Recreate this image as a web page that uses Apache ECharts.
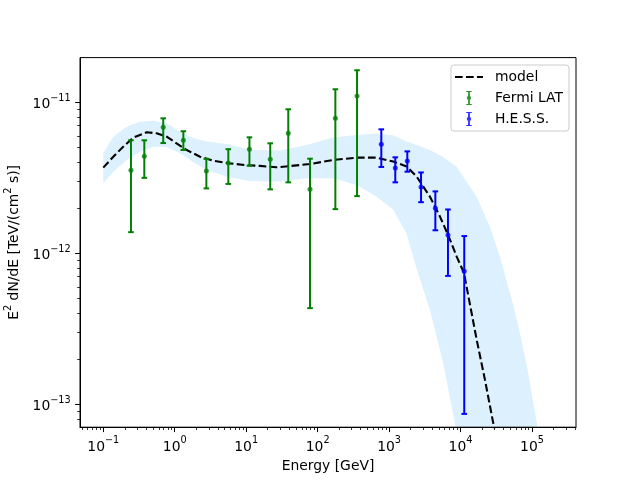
<!DOCTYPE html>
<html><head><meta charset="utf-8">
<script src="https://cdn.jsdelivr.net/npm/echarts@6.0.0/dist/echarts.min.js"></script>
<style>html,body{margin:0;padding:0;background:#fff}#c{width:640px;height:480px}</style>
</head><body><div id="c"></div>
<script>
// ---------- data (energies in GeV, fluxes in TeV/(cm^2 s)) ----------
const fermiE  = [0.244, 0.375, 0.69, 1.32, 2.77, 5.62, 11.1, 21.7, 38.8, 78.2, 177, 356];
const fermiF  = [3.55e-12, 4.39e-12, 6.83e-12, 5.6e-12, 3.51e-12, 3.96e-12, 4.89e-12, 4.20e-12, 6.24e-12, 2.65e-12, 7.83e-12, 1.10e-11];
const fermiHi = [5.6e-12, 5.6e-12, 7.83e-12, 6.43e-12, 4.22e-12, 4.89e-12, 5.86e-12, 5.35e-12, 8.99e-12, 4.23e-12, 1.22e-11, 1.63e-11];
const fermiLo = [1.38e-12, 3.16e-12, 5.37e-12, 4.83e-12, 2.69e-12, 2.88e-12, 3.80e-12, 2.65e-12, 2.95e-12, 4.33e-13, 1.96e-12, 2.39e-12];

const hessE  = [778, 1221, 1799, 2800, 4440, 6670, 11270];
const hessF  = [5.27e-12, 3.67e-12, 4.08e-12, 2.75e-12, 1.99e-12, 1.32e-12, 7.6e-13];
const hessHi = [6.62e-12, 4.32e-12, 4.73e-12, 3.43e-12, 2.57e-12, 1.95e-12, 1.30e-12];
const hessLo = [3.73e-12, 2.95e-12, 3.47e-12, 2.18e-12, 1.42e-12, 7.08e-13, 8.63e-14];

const modelE = [0.1, 0.138, 0.190, 0.263, 0.405, 0.558, 0.771, 1.06, 1.47, 2.26, 3.46, 5.93, 10.2, 15.6, 26.7, 78.2, 166, 352, 670, 1145, 1763, 2432, 3733, 5152, 6745, 8836, 11170, 16830, 21980, 28710, 32400];
const modelF = [3.69e-12, 4.36e-12, 5.08e-12, 5.83e-12, 6.33e-12, 6.23e-12, 5.92e-12, 5.35e-12, 4.83e-12, 4.36e-12, 4.10e-12, 3.94e-12, 3.83e-12, 3.79e-12, 3.71e-12, 3.90e-12, 4.15e-12, 4.30e-12, 4.30e-12, 4.05e-12, 3.75e-12, 3.22e-12, 2.37e-12, 1.75e-12, 1.31e-12, 9.5e-13, 7.41e-13, 2.67e-13, 1.45e-13, 7.48e-14, 5.4e-14];

const bandE  = [0.1, 0.138, 0.2126, 0.326, 0.501, 0.771, 1.184, 1.80, 2.80, 5.56, 11.3, 29.7, 70.3, 166, 352, 671, 1145, 1764, 2434, 3736, 5680, 8834, 16830, 25840, 35650, 54730, 67920, 88720, 110200, 152000];
const bandHi = [4.59e-12, 5.92e-12, 6.89e-12, 7.44e-12, 7.55e-12, 7.26e-12, 6.38e-12, 5.80e-12, 5.50e-12, 5.27e-12, 4.83e-12, 4.80e-12, 5.21e-12, 5.85e-12, 6.07e-12, 6.21e-12, 6.03e-12, 5.50e-12, 5.21e-12, 4.83e-12, 4.34e-12, 3.74e-12, 2.36e-12, 1.49e-12, 9.45e-13, 4.55e-13, 2.95e-13, 1.60e-13, 8.71e-14, 3.67e-14];
const bandLo = [2.91e-12, 3.47e-12, 4.15e-12, 4.71e-12, 5.08e-12, 5.06e-12, 4.61e-12, 4.02e-12, 3.56e-12, 3.20e-12, 3.01e-12, 2.99e-12, 3.14e-12, 3.14e-12, 2.83e-12, 2.37e-12, 1.94e-12, 1.34e-12, 7.87e-13, 4.21e-13, 1.89e-13, 6.56e-14, 1e-14, 3e-15, 1e-15, 3e-16, 1e-16, 5e-17, 2e-17, 1e-17];

const xTicks = [-1, 0, 1, 2, 3, 4, 5];      // log10 exponents of major x ticks
const yTicks = [-13, -12, -11];             // log10 exponents of major y ticks
const minorMult = [2, 3, 4, 5, 6, 7, 8, 9];

// ---------- layout ----------
const FONT = 'DejaVu Sans';
const xMin = -1.326, xMax = 5.616, yMin = -13.152, yMax = -10.704;
const L = Math.log10;

function minorTicks(lo, hi) {
  const out = [];
  for (let n = Math.floor(lo) - 1; n <= Math.ceil(hi); n++)
    for (const m of minorMult) { const v = n + L(m); if (v > lo && v < hi) out.push(v); }
  return out;
}
const supTxt = n => (n < 0 ? '\u2212' + (-n) : '' + n);
const tickFmt = v => '{b|10}{s|' + supTxt(Math.round(v)) + '}';
const richTick = {
  b: {fontSize: 13.9, fontFamily: FONT, color: '#000', padding: [4.5, 0, 0, 0]},
  s: {fontSize: 9.7, fontFamily: FONT, color: '#000', verticalAlign: 'top'}
};

const errRender = (params, api) => {
  const x = api.value(0), lo = api.value(1), hi = api.value(2);
  const p0 = api.coord([x, lo]), p1 = api.coord([x, hi]);
  const c = api.visual('color');
  const cap = 2.8;
  const st = {stroke: c, lineWidth: 2};
  return {type: 'group', children: [
    {type: 'line', shape: {x1: p0[0], y1: p0[1], x2: p1[0], y2: p1[1]}, style: st},
    {type: 'line', shape: {x1: p0[0] - cap, y1: p0[1], x2: p0[0] + cap, y2: p0[1]}, style: st},
    {type: 'line', shape: {x1: p1[0] - cap, y1: p1[1], x2: p1[0] + cap, y2: p1[1]}, style: st}
  ]};
};

const GREEN = '#008000', BLUE = '#0000ff', BAND = '#dcf0fd';

const bandRender = (params, api) => {
  if (params.dataIndex !== 0) return;
  const up = bandE.map((e, i) => api.coord([L(e), L(bandHi[i])]));
  const dn = bandE.map((e, i) => api.coord([L(e), L(bandLo[i])])).reverse();
  return {type: 'polygon', shape: {points: up.concat(dn)}, style: {fill: BAND}};
};

const errIcon = 'path://M0,0H6V1.2H0Z M2,0H4V15H2Z M0,13.8H6V15H0Z M5.3,7.5A2.3,2.3,0,1,1,0.7,7.5A2.3,2.3,0,1,1,5.3,7.5Z';
const dashIcon = 'path://M0,0H7.7V2.1H0Z M11,0H18.7V2.1H11Z M22,0H28V2.1H22Z';

const option = {
  animation: false,
  textStyle: {fontFamily: FONT},
  grid: {left: 80, right: 64, top: 57.6, bottom: 52.8, containLabel: false, outerBoundsMode: 'none',
         show: true, borderColor: '#000', borderWidth: 1, z: 10},
  legend: {
    orient: 'vertical', align: 'left', right: 71, top: 65,
    itemWidth: 28, itemHeight: 14, itemGap: 7,
    padding: [5, 6, 5, 4],
    backgroundColor: '#fff', borderColor: '#cccccc', borderWidth: 1, borderRadius: 3,
    textStyle: {fontSize: 13.9, fontFamily: FONT, color: '#000', padding: [0, 0, 0, 7]},
    data: [
      {name: 'model', icon: dashIcon},
      {name: 'Fermi LAT', icon: errIcon},
      {name: 'H.E.S.S.', icon: errIcon}
    ]
  },
  xAxis: [
    {
      type: 'value', min: xMin, max: xMax, position: 'bottom', z: 5,
      name: 'Energy [GeV]', nameLocation: 'middle', nameGap: 31,
      nameTextStyle: {fontSize: 13.9, fontFamily: FONT, color: '#000'},
      axisLine: {onZero: false, lineStyle: {color: '#000', width: 1}},
      axisTick: {customValues: xTicks, length: 4.9, lineStyle: {color: '#000', width: 1}},
      axisLabel: {customValues: xTicks, formatter: tickFmt, rich: richTick, margin: 8.4},
      splitLine: {show: false}
    },
    {
      type: 'value', min: xMin, max: xMax, position: 'bottom', z: 5,
      axisLine: {show: false, onZero: false},
      axisTick: {customValues: minorTicks(xMin, xMax), length: 2.8, lineStyle: {color: '#000', width: 0.8}},
      axisLabel: {show: false},
      splitLine: {show: false}
    }
  ],
  yAxis: [
    {
      type: 'value', min: yMin, max: yMax, position: 'left', z: 5,
      name: '{n|E}{s|2}{n| dN/dE [TeV/(cm}{s|2}{n| s)]}',
      nameLocation: 'middle', nameGap: 56, nameRotate: 90,
      nameTextStyle: {color: '#000', rich: {
        n: {fontSize: 13.9, fontFamily: FONT, color: '#000', padding: [4.5, 0, 0, 0]},
        s: {fontSize: 9.7, fontFamily: FONT, color: '#000', verticalAlign: 'top'}
      }},
      axisLine: {onZero: false, lineStyle: {color: '#000', width: 1}},
      axisTick: {customValues: yTicks, length: 4.9, lineStyle: {color: '#000', width: 1}},
      axisLabel: {customValues: yTicks, formatter: tickFmt, rich: richTick, margin: 9.3},
      splitLine: {show: false}
    },
    {
      type: 'value', min: yMin, max: yMax, position: 'left', z: 5,
      axisLine: {show: false, onZero: false},
      axisTick: {customValues: minorTicks(yMin, yMax), length: 2.8, lineStyle: {color: '#000', width: 0.8}},
      axisLabel: {show: false},
      splitLine: {show: false}
    }
  ],
  series: [
    {
      name: 'band', type: 'custom', xAxisIndex: 0, yAxisIndex: 0, clip: true, silent: true,
      data: [[L(bandE[0]), L(bandHi[0])]], encode: {x: 0, y: 1},
      renderItem: bandRender, z: 1
    },
    {
      name: 'model', type: 'line', xAxisIndex: 0, yAxisIndex: 0,
      data: modelE.map((e, i) => [L(e), L(modelF[i])]),
      symbol: 'none', color: '#000',
      lineStyle: {color: '#000', width: 2.1, type: [7.7, 3.3]}, z: 3
    },
    {
      name: 'Fermi LAT', type: 'scatter', xAxisIndex: 0, yAxisIndex: 0,
      data: fermiE.map((e, i) => [L(e), L(fermiF[i])]),
      symbol: 'circle', symbolSize: 5, itemStyle: {color: GREEN}, z: 5
    },
    {
      name: 'Fermi LAT', type: 'custom', xAxisIndex: 0, yAxisIndex: 0,
      data: fermiE.map((e, i) => [L(e), L(fermiLo[i]), L(fermiHi[i])]),
      encode: {x: 0, y: [1, 2]}, renderItem: errRender, itemStyle: {color: GREEN}, z: 4
    },
    {
      name: 'H.E.S.S.', type: 'scatter', xAxisIndex: 0, yAxisIndex: 0,
      data: hessE.map((e, i) => [L(e), L(hessF[i])]),
      symbol: 'circle', symbolSize: 5, itemStyle: {color: BLUE}, z: 5
    },
    {
      name: 'H.E.S.S.', type: 'custom', xAxisIndex: 0, yAxisIndex: 0,
      data: hessE.map((e, i) => [L(e), L(hessLo[i]), L(hessHi[i])]),
      encode: {x: 0, y: [1, 2]}, renderItem: errRender, itemStyle: {color: BLUE}, z: 4
    }
  ]
};
const chart = echarts.init(document.getElementById('c'), null, {renderer: 'canvas'});
chart.setOption(option);
</script>
</body></html>
